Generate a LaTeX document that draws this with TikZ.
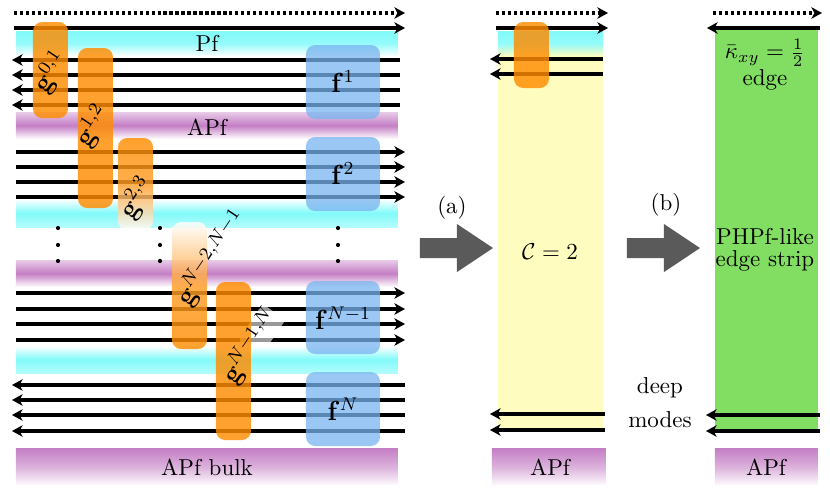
\documentclass[tikz,border=0pt]{standalone}
\usepackage{amsmath,amssymb}
\usetikzlibrary{arrows.meta}
\definecolor{cyanc}{RGB}{130,250,250}
\definecolor{purc}{RGB}{196,126,196}
\definecolor{orc}{RGB}{255,140,0}
\definecolor{bluc}{RGB}{120,180,240}
\definecolor{yelc}{RGB}{255,252,192}
\definecolor{grnc}{RGB}{130,222,98}
\definecolor{arrc}{RGB}{90,90,90}
\begin{document}
\begin{tikzpicture}[x=0.4348pt,y=-0.4348pt,
  mode/.style={line width=1.4pt},
  fwd/.style={mode,-{Stealth[length=4.6pt,width=5pt,inset=1.3pt]}},
  dotmode/.style={fwd, dash pattern=on 1.4pt off 1.2pt},
  obox/.style={fill=orc, fill opacity=0.82, rounded corners=4pt},
  bbox/.style={fill=bluc, fill opacity=0.75, rounded corners=4pt},
  glab/.style={font=\large, rotate=56, inner sep=0.5pt},
  glabbg/.style={glab, inner sep=0pt, fill=white, fill opacity=0.6, text opacity=0},
  flab/.style={font=\large},
  txt/.style={inner sep=0pt},
  bigarrow/.style={fill=arrc},
]
\useasboundingbox (0,0) rectangle (830,491);

% ---------- bands (left panel)
\shade[top color=cyanc, bottom color=white, middle color=cyanc!85] (16,31) rectangle (398,56);
\shade[top color=purc!40, bottom color=white, middle color=purc] (16,112) rectangle (398,139);
\shade[top color=white, bottom color=cyanc!60, middle color=cyanc] (16,199) rectangle (398,227);
\shade[top color=purc!40, bottom color=white, middle color=purc] (16,260) rectangle (398,287);
\shade[top color=white, bottom color=cyanc!60, middle color=cyanc] (16,346) rectangle (398,373);
\shade[top color=purc, bottom color=white, middle color=purc!60] (16,448) rectangle (398,486);

% ---------- middle panel backgrounds
\fill[yelc] (498,55) rectangle (603,429);
\shade[top color=cyanc, bottom color=yelc, middle color=cyanc!85] (498,31) rectangle (603,56);
\shade[top color=purc, bottom color=white, middle color=purc!60] (492,448) rectangle (606,486);

% ---------- right panel backgrounds
\fill[grnc] (715,28) rectangle (818,430);
\shade[top color=purc, bottom color=white, middle color=purc!60] (715,448) rectangle (818,486);

% ---------- mode lines, left panel
\draw[dotmode] (14,13) -- (405,13);
\draw[fwd] (14,28) -- (405,28);
\foreach \y in {60,75,90,105} \draw[fwd] (400,\y) -- (12,\y);
\foreach \y in {152,167,182,197} \draw[fwd] (16,\y) -- (405,\y);
\foreach \y in {293,309,324,340} \draw[fwd] (16,\y) -- (405,\y);
\foreach \y in {385,400,415,431} \draw[fwd] (405,\y) -- (12,\y);

% ---------- mode lines, middle panel
\draw[dotmode] (496,13) -- (608,13);
\draw[fwd] (496,28) -- (608,28);
\foreach \y in {59,74} \draw[fwd] (603,\y) -- (490,\y);
\foreach \y in {414,430} \draw[fwd] (605,\y) -- (490,\y);

% ---------- mode lines, right panel
\draw[dotmode] (713,13) -- (822,13);
\draw[fwd] (820,28) -- (707,28);
\foreach \y in {415,431} \draw[fwd] (820,\y) -- (706,\y);

% ---------- label background (under box), only over the mode lines
\begin{scope}
  \clip (240,300) rectangle (300,345);
  \node[glabbg] (gN1bg) at (251,346) {$\mathbf{g}^{N-1,N}$};
\end{scope}

% ---------- orange boxes
\fill[obox] (33,22) rectangle (68,118);
\fill[obox] (78,48) rectangle (113,208);
\shade[rounded corners=4pt, fill opacity=0.82, top color=orc, bottom color=white, middle color=orc!85] (118,138) rectangle (153,230);
\shade[rounded corners=4pt, fill opacity=0.82, top color=white, bottom color=orc, middle color=orc!85] (172,222) rectangle (207,349);
\fill[obox] (216,282) rectangle (251,440);
\fill[obox] (514,22) rectangle (549,88);

% ---------- blue boxes
\fill[bbox] (306,45) rectangle (380,119);
\fill[bbox] (306,137) rectangle (380,211);
\fill[bbox] (306,281) rectangle (380,354);
\fill[bbox] (306,372) rectangle (380,446);

% ---------- labels
\node[glab] (g01) at (51,72) {$\mathbf{g}^{0,1}$};
\node[glab] (g12) at (93,126) {$\mathbf{g}^{1,2}$};
\node[glab] (g23) at (137,198) {$\mathbf{g}^{2,3}$};
\node[glab] (gN2) at (212,258) {$\mathbf{g}^{N-2,N-1}$};
\node[glab] (gN1) at (251,346) {$\mathbf{g}^{N-1,N}$};

\node[flab] (f1) at (343,82) {$\mathbf{f}^{1}$};
\node[flab] (f2) at (343,174) {$\mathbf{f}^{2}$};
\node[flab] (fN1) at (343,318) {$\mathbf{f}^{N-1}$};
\node[flab] (fN) at (343,409) {$\mathbf{f}^{N}$};

\node[txt] (pf) at (207,43) {Pf};
\node[txt] (apf1) at (207,127) {APf};
\node[txt] (apfbulk) at (207,467) {APf bulk};
\node[txt] (apf2) at (550,467) {APf};
\node[txt] (apf3) at (766,467) {APf};
\node[txt] (cc) at (550,252) {$\mathcal{C}=2$};
\node[txt] (la) at (452,208) {(a)};
\node[txt] (lb) at (666,205) {(b)};
\node[txt] (kap) at (765,53) {$\bar{\kappa}_{xy}=\tfrac{1}{2}$};
\node[txt] (edge) at (765,80) {edge};
\node[txt] (php1) at (765,237) {PHPf-like};
\node[txt] (php2) at (765,261) {edge strip};
\node[txt] (deep) at (660,388) {deep};
\node[txt] (modes) at (660,420) {modes};

% ---------- dots
\foreach \x in {58,160,338}
  \foreach \y in {228,245,261}
    \fill (\x,\y) circle (0.9pt);

% ---------- big grey arrows
\fill[bigarrow] (420,238) -- (457,238) -- (457,224) -- (493,248) -- (457,272) -- (457,258) -- (420,258) -- cycle;
\fill[bigarrow] (627,238) -- (664,238) -- (664,224) -- (700,248) -- (664,272) -- (664,258) -- (627,258) -- cycle;
\end{tikzpicture}
\end{document}
